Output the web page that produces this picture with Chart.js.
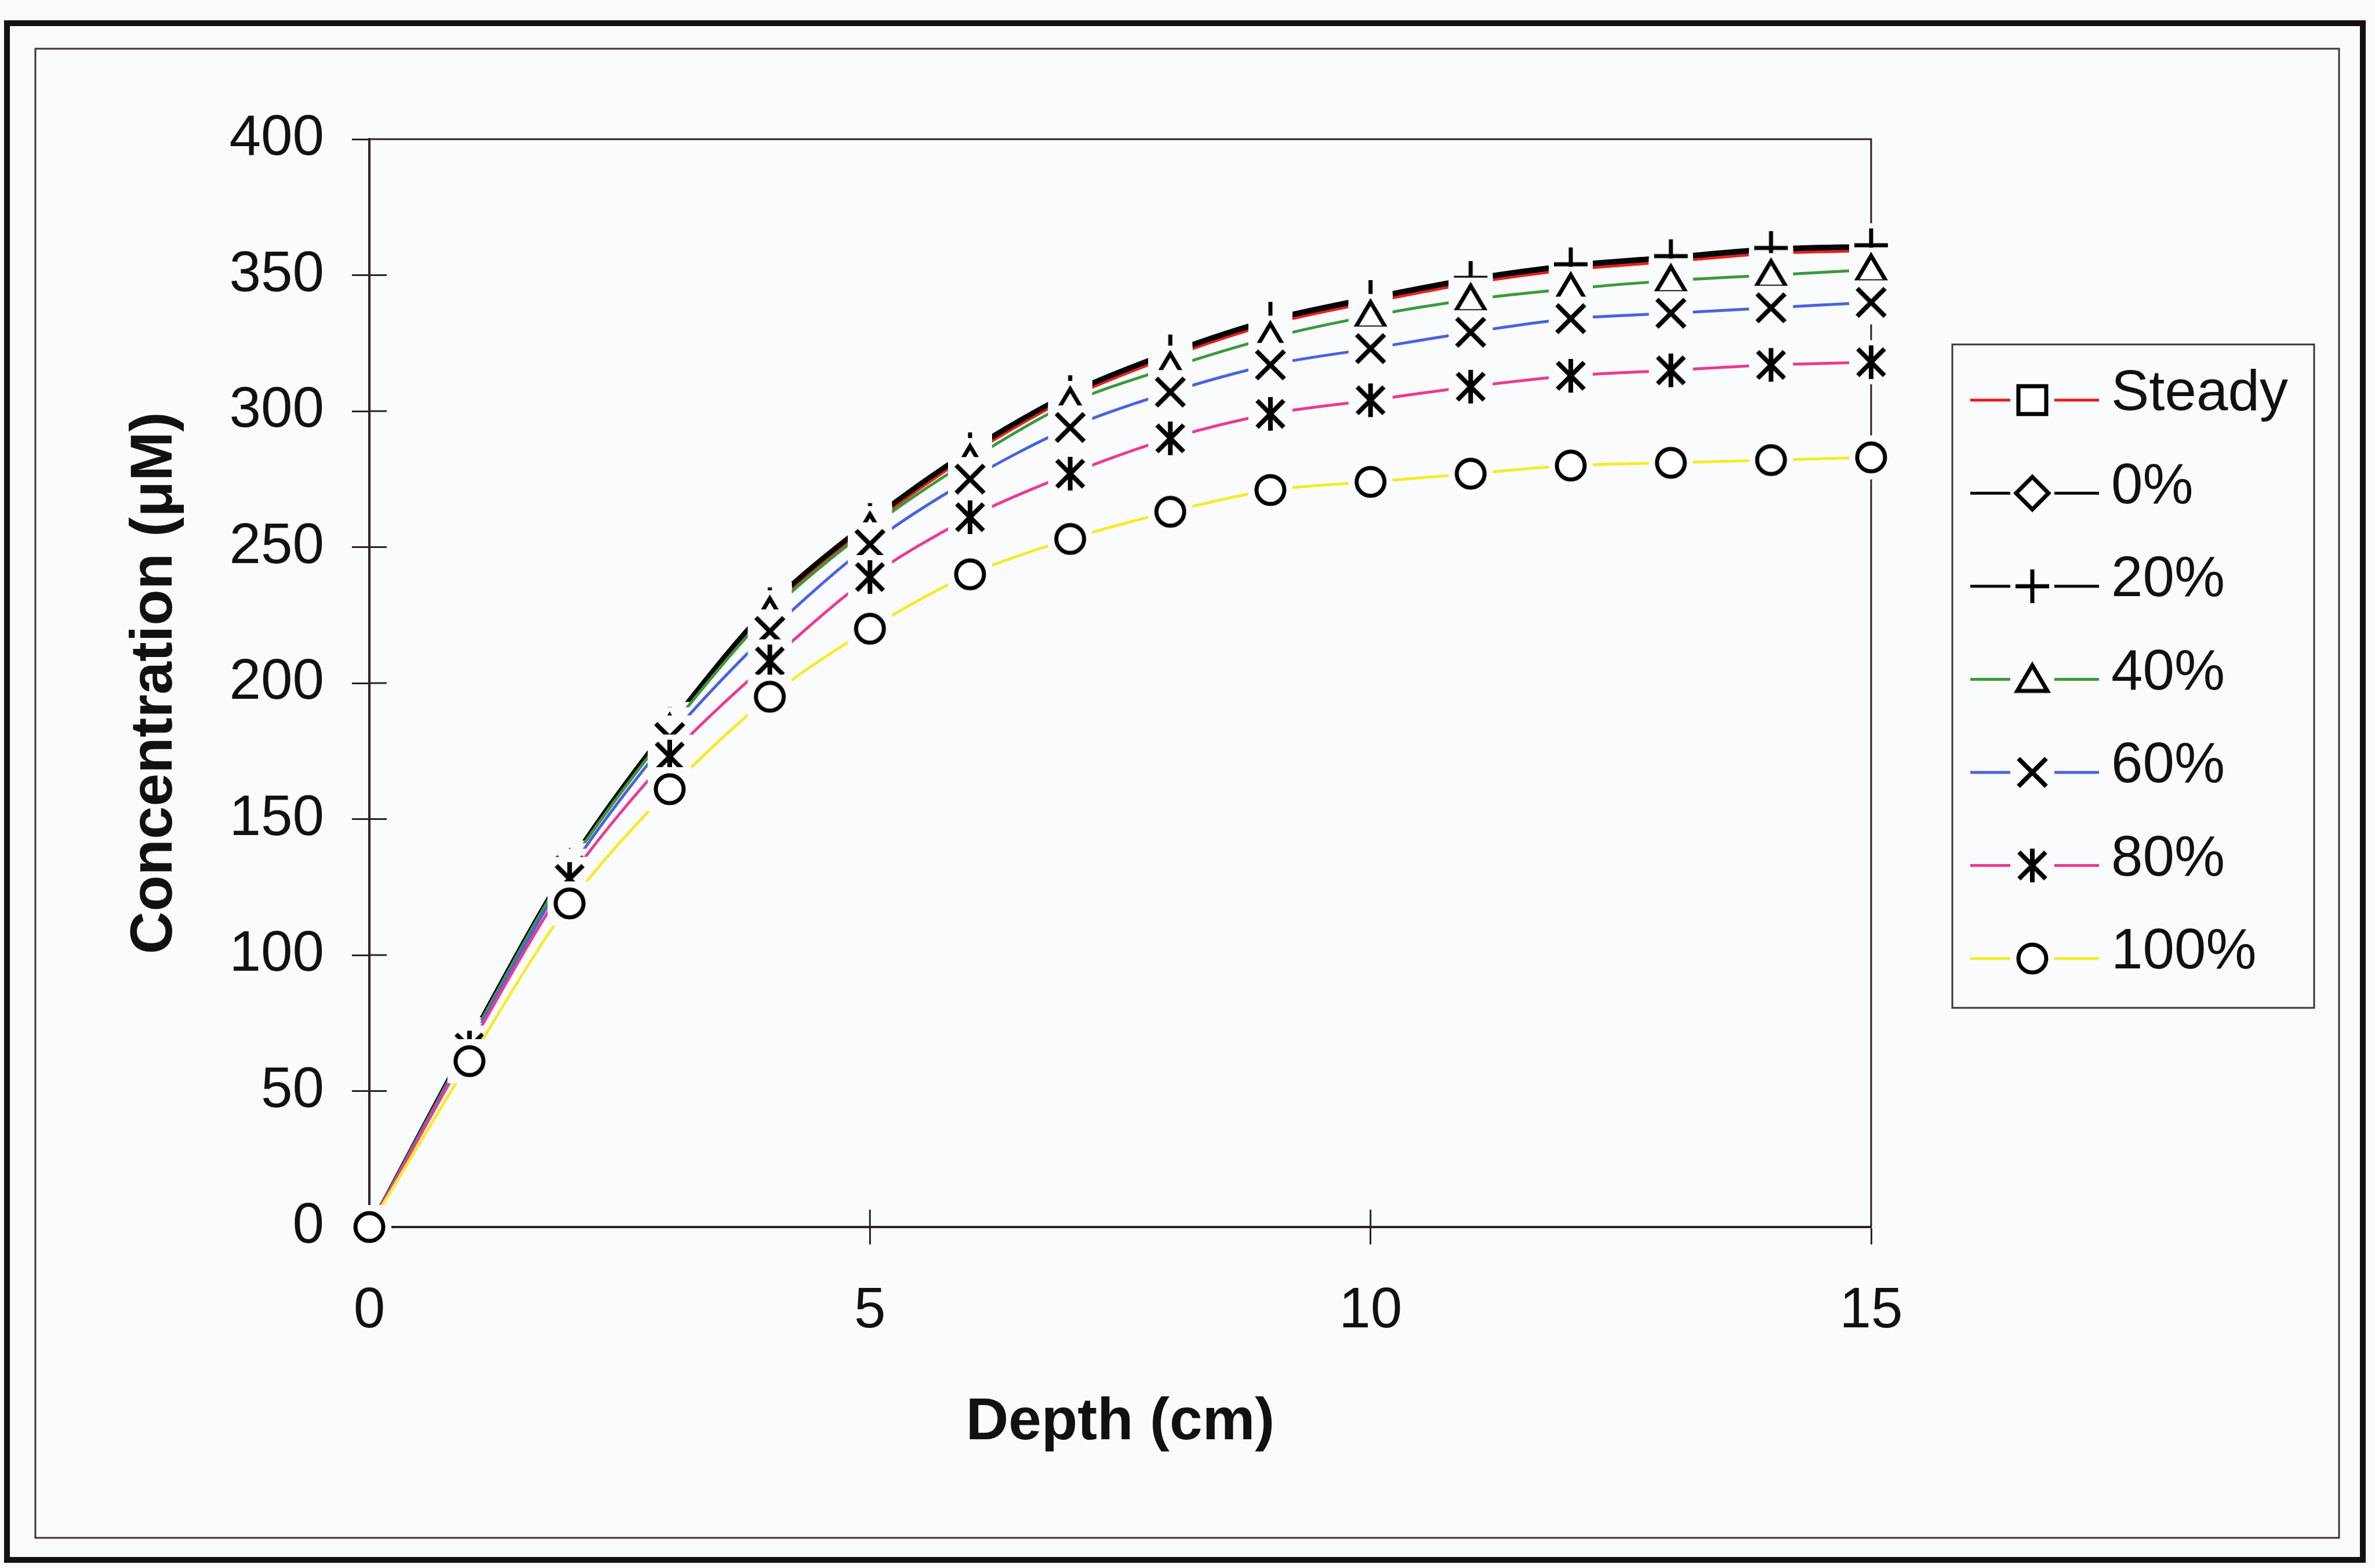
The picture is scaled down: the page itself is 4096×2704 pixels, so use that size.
<!DOCTYPE html>
<html>
<head>
<meta charset="utf-8">
<title>Concentration vs depth</title>
<script src="https://cdn.jsdelivr.net/npm/chart.js@4.4.0/dist/chart.umd.min.js"></script>
<style>
  html, body { margin: 0; padding: 0; background: #fafbfd; }
  #wrap { width: 4096px; height: 2704px; }
</style>
</head>
<body>
<div id="wrap"><canvas id="grafico" width="4096" height="2704"></canvas></div>
<script>
// data
const depths = [0, 1, 2, 3, 4, 5, 6, 7, 8, 9, 10, 11, 12, 13, 14, 15];
const steady = [0, 68, 133, 183, 227, 258, 284, 305, 320, 332, 340, 347, 352, 355, 358, 359];
const pct0 = [0, 69, 134, 184, 228, 259, 285, 306, 321, 333, 341, 348, 353, 356, 359, 360];
const pct20 = [0, 69, 134, 185, 229, 260, 286, 307, 322, 334, 342, 349, 354, 357, 360, 361];
const pct40 = [0, 68, 133, 183, 226, 257, 282, 303, 316, 327, 335, 341, 345, 348, 350, 352];
const pct60 = [0, 67, 131, 180, 219, 251, 275, 294, 307, 317, 323, 329, 334, 336, 338, 340];
const pct80 = [0, 66, 128, 173, 208, 239, 261, 277, 290, 299, 304, 309, 313, 315, 317, 318];
const pct100 = [0, 61, 119, 161, 195, 220, 240, 253, 263, 271, 274, 277, 280, 281, 282, 283];

const seriesNames = ["Steady", "0%", "20%", "40%", "60%", "80%", "100%"];
const seriesValues = [steady, pct0, pct20, pct40, pct60, pct80, pct100];
const seriesColors = ["#e8201c", "#000000", "#000000", "#3a9a3a", "#4a62e0", "#ec3a8e", "#f4ec2a"];
const markerShapes = ["square", "diamond", "plus", "triangle", "cross", "asterisk", "circle"];

const xTickStep = 5;
const yTickStep = 50;
const bg = "#fafbfd";
const fontFamily = "Arial, 'Liberation Sans', sans-serif";

// excel-like markers: glyph on a small background square
function criarMarcador(shape) {
  const size = 84;
  const c = document.createElement("canvas");
  c.width = size;
  c.height = size;
  const g = c.getContext("2d");
  const m = size / 2;
  g.fillStyle = bg;
  g.fillRect(m - 38, m - 38, 76, 76);
  g.strokeStyle = "#000";
  g.fillStyle = "#fff";
  g.lineWidth = 7;
  g.lineCap = "butt";
  g.beginPath();
  if (shape === "square") {
    g.rect(m - 24, m - 24, 48, 48);
    g.fill();
    g.stroke();
  } else if (shape === "diamond") {
    g.moveTo(m, m - 28);
    g.lineTo(m + 28, m);
    g.lineTo(m, m + 28);
    g.lineTo(m - 28, m);
    g.closePath();
    g.fill();
    g.stroke();
  } else if (shape === "plus") {
    g.moveTo(m - 29, m);
    g.lineTo(m + 29, m);
    g.moveTo(m, m - 29);
    g.lineTo(m, m + 29);
    g.stroke();
  } else if (shape === "triangle") {
    g.moveTo(m, m - 24);
    g.lineTo(m + 26, m + 20);
    g.lineTo(m - 26, m + 20);
    g.closePath();
    g.fill();
    g.stroke();
  } else if (shape === "cross") {
    g.lineWidth = 8;
    g.moveTo(m - 24, m - 24);
    g.lineTo(m + 24, m + 24);
    g.moveTo(m + 24, m - 24);
    g.lineTo(m - 24, m + 24);
    g.stroke();
  } else if (shape === "asterisk") {
    g.lineWidth = 8;
    g.moveTo(m - 23, m - 23);
    g.lineTo(m + 23, m + 23);
    g.moveTo(m + 23, m - 23);
    g.lineTo(m - 23, m + 23);
    g.moveTo(m, m - 29);
    g.lineTo(m, m + 29);
    g.stroke();
  } else {
    g.arc(m, m, 24, 0, Math.PI * 2);
    g.fill();
    g.stroke();
  }
  return c;
}

const marcadores = markerShapes.map(criarMarcador);

const datasets = seriesNames.map((nome, i) => ({
  label: nome,
  data: seriesValues[i].map((v, k) => ({ x: depths[k], y: v })),
  borderColor: seriesColors[i],
  backgroundColor: seriesColors[i],
  borderWidth: 5,
  tension: 0.3,
  pointStyle: marcadores[i],
  pointRadius: 30,
  clip: false,
  order: seriesNames.length - 1 - i,
}));

// outer double frame of the figure
const moldura = {
  id: "moldura",
  beforeDraw(chart) {
    const ctx = chart.ctx;
    ctx.save();
    ctx.fillStyle = bg;
    ctx.fillRect(0, 0, chart.width, chart.height);
    ctx.strokeStyle = "#141014";
    ctx.lineWidth = 10;
    ctx.strokeRect(12, 40, 4063, 2650);
    ctx.strokeStyle = "#3b3340";
    ctx.lineWidth = 3;
    ctx.strokeRect(61, 84, 3973, 2568);
    ctx.restore();
  },
};

// plot border (top/right) and the inner half of the tick marks
const bordaPlot = {
  id: "bordaPlot",
  beforeDatasetsDraw(chart) {
    const { ctx, chartArea: a, scales } = chart;
    ctx.save();
    ctx.strokeStyle = "#2a2228";
    ctx.lineWidth = 3;
    ctx.beginPath();
    ctx.moveTo(a.left, a.top);
    ctx.lineTo(a.right, a.top);
    ctx.lineTo(a.right, a.bottom);
    scales.y.ticks.forEach((t) => {
      const py = scales.y.getPixelForValue(t.value);
      ctx.moveTo(a.left, py);
      ctx.lineTo(a.left + 30, py);
    });
    scales.x.ticks.forEach((t) => {
      const px = scales.x.getPixelForValue(t.value);
      ctx.moveTo(px, a.bottom);
      ctx.lineTo(px, a.bottom - 30);
    });
    ctx.stroke();
    ctx.restore();
  },
};

// legend box on the right
const legenda = {
  id: "legenda",
  afterDraw(chart) {
    const ctx = chart.ctx;
    ctx.save();
    ctx.fillStyle = bg;
    ctx.fillRect(3367, 594, 624, 1144);
    ctx.strokeStyle = "#3a3440";
    ctx.lineWidth = 3;
    ctx.strokeRect(3367, 594, 624, 1144);
    chart.data.datasets.forEach((ds, i) => {
      const y = 690 + i * 160.5;
      ctx.strokeStyle = ds.borderColor;
      ctx.lineWidth = 5;
      ctx.beginPath();
      ctx.moveTo(3398, y);
      ctx.lineTo(3620, y);
      ctx.stroke();
      const mk = ds.pointStyle;
      ctx.drawImage(mk, 3505 - mk.width / 2, y - mk.height / 2);
      ctx.fillStyle = "#111";
      ctx.font = "98px " + fontFamily;
      ctx.textAlign = "left";
      ctx.textBaseline = "middle";
      ctx.fillText(ds.label, 3641, y - 10);
    });
    ctx.restore();
  },
};

new Chart(document.getElementById("grafico"), {
  type: "line",
  data: { datasets },
  options: {
    responsive: false,
    animation: false,
    events: [],
    layout: { padding: { left: 0, top: 240, right: 869, bottom: 168 } },
    plugins: {
      legend: { display: false },
      tooltip: { enabled: false },
    },
    scales: {
      x: {
        type: "linear",
        min: 0,
        max: 15,
        afterFit: (s) => { s.height = 420; },
        border: { display: true, color: "#2a2228", width: 4 },
        grid: { drawOnChartArea: false, drawTicks: true, tickLength: 30, tickWidth: 3, tickColor: "#2a2228" },
        ticks: {
          stepSize: xTickStep,
          padding: 57,
          color: "#111",
          font: { family: fontFamily, size: 98 },
        },
        title: {
          display: true,
          text: "Depth (cm)",
          color: "#111",
          padding: { top: 0, bottom: 21 },
          font: { family: fontFamily, size: 102, weight: "bold" },
        },
      },
      y: {
        min: 0,
        max: 400,
        afterFit: (s) => { s.width = 637; },
        border: { display: true, color: "#2a2228", width: 4 },
        grid: { drawOnChartArea: false, drawTicks: true, tickLength: 30, tickWidth: 3, tickColor: "#2a2228" },
        ticks: {
          stepSize: yTickStep,
          padding: 48,
          color: "#111",
          font: { family: fontFamily, size: 98 },
        },
        title: {
          display: true,
          text: "Concentration (μM)",
          color: "#111",
          padding: { top: 207, bottom: 0 },
          font: { family: fontFamily, size: 102, weight: "bold" },
        },
      },
    },
  },
  plugins: [moldura, bordaPlot, legenda],
});
</script>
</body>
</html>
